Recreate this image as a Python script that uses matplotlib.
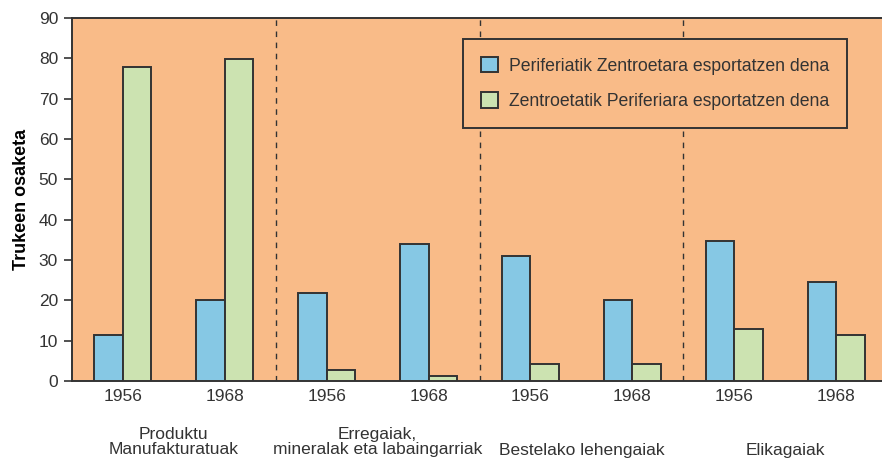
import numpy as np
import matplotlib
matplotlib.use("Agg")
import matplotlib.pyplot as plt

plt.rcParams['font.family'] = ['Liberation Sans', 'DejaVu Sans']

# data
groups = ["Produktu\nManufakturatuak", "Erregaiak,\nmineralak eta labaingarriak",
          "Bestelako lehengaiak", "Elikagaiak"]
years = ["1956", "1968"]
periferia_to_zentro = [11.5, 20.0, 21.7, 34.0, 31.0, 20.0, 34.7, 24.5]
zentro_to_periferia = [77.7, 79.8, 2.8, 1.3, 4.2, 4.2, 12.9, 11.4]
series_names = ["Periferiatik Zentroetara esportatzen dena",
                "Zentroetatik Periferiara esportatzen dena"]

bg = "#F9BB88"
blue = "#86C8E4"
green = "#CCE3B1"
ink = "#333333"

fig = plt.figure(figsize=(8.82, 4.58), dpi=100)
ax = fig.add_axes([0.0816, 0.168, 0.9184, 0.793])
ax.set_facecolor(bg)

x = np.arange(len(periferia_to_zentro))
w = 0.28
ax.bar(x - w / 2, periferia_to_zentro, w, color=blue, edgecolor=ink, linewidth=1.4,
       label=series_names[0], zorder=3)
ax.bar(x + w / 2, zentro_to_periferia, w, color=green, edgecolor=ink, linewidth=1.4,
       label=series_names[1], zorder=3)

for d in [1.5, 3.5, 5.5]:
    ax.axvline(d, color=ink, linewidth=1, linestyle=(0, (4, 4)), zorder=2)

ax.set_xlim(-0.5, 7.45)
ax.set_ylim(0, 90)
ax.set_yticks(range(0, 91, 10))
ax.set_xticks(x)
ax.set_xticklabels(years * 4)
ax.tick_params(axis='x', length=0, pad=6, labelsize=12.5, labelcolor=ink)
ax.tick_params(axis='y', length=6, width=1.2, color=ink, pad=4, labelsize=12.5, labelcolor=ink)

for s in ["left", "bottom", "top"]:
    ax.spines[s].set_color(ink)
    ax.spines[s].set_linewidth(1.4)
ax.spines["right"].set_visible(False)

ax.set_ylabel("Trukeen osaketa", fontsize=13, fontweight="bold", color="black", labelpad=6)

# group labels under the years
for i, g in enumerate(groups):
    two = "\n" in g
    ax.text(2 * i + 0.5, -0.167 if two else -0.192, g, transform=ax.get_xaxis_transform(),
            ha="center", va="center", fontsize=12.5, color=ink, linespacing=1.02)

leg = ax.legend(loc="upper left", bbox_to_anchor=(0.483, 0.942), borderaxespad=0,
                fontsize=12.7, frameon=True, fancybox=False, facecolor=bg, edgecolor=ink,
                handlelength=1.0, handleheight=1.0, handletextpad=0.6, borderpad=1.0,
                labelspacing=1.0, labelcolor=ink)
leg.get_frame().set_linewidth(1.4)
leg.get_frame().set_alpha(None)

fig.savefig("out.png", dpi=100)
